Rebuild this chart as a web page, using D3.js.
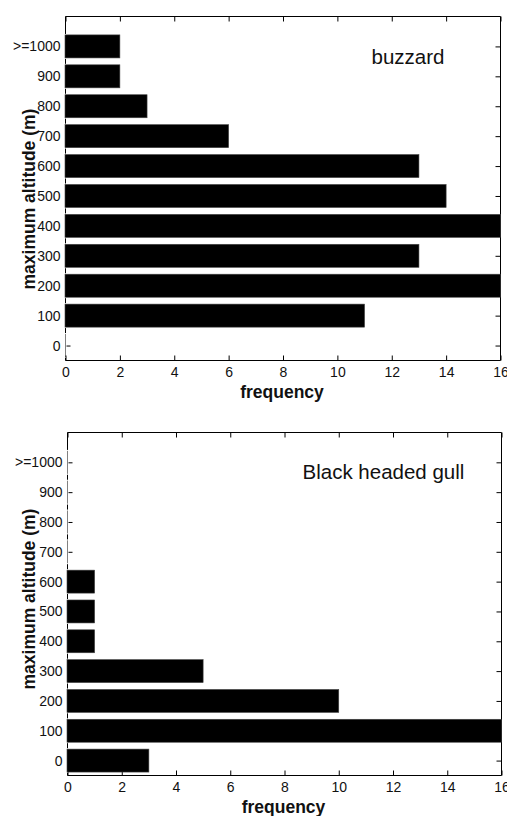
<!DOCTYPE html>
<html>
<head>
<meta charset="utf-8">
<script src="https://cdn.jsdelivr.net/npm/d3@7"></script>
<style>
  html, body { margin: 0; padding: 0; background: #fff; }
  svg { display: block; }
  .tick text { font-family: "Liberation Sans Narrow", "Arial Narrow", Arial, sans-serif; font-size: 14px; fill: #111; }
</style>
</head>
<body>
<div id="chart"></div>
<script>
// ---- data ----
const categories = ["0", "100", "200", "300", "400", "500", "600", "700", "800", "900", ">=1000"];
const buzzardFreq = [0, 11, 16, 13, 16, 14, 13, 6, 3, 2, 2];
const gullFreq = [3, 16, 10, 5, 1, 1, 1, 0, 0, 0, 0];
const freqTicks = [0, 2, 4, 6, 8, 10, 12, 14, 16];
const speciesNames = ["buzzard", "Black headed gull"];
const xLabel = "frequency";
const yLabel = "maximum altitude (m)";

// ---- layout ----
const W = 507, H = 816;
const panels = [
  { values: buzzardFreq, name: speciesNames[0], x0: 65.5, x1: 500.5, y0: 16.5, y1: 360.5,
    nameX: 371.5, nameY: 63.5, yLabelCY: 199 },
  { values: gullFreq, name: speciesNames[1], x0: 67.5, x1: 501.5, y0: 432.5, y1: 775.5,
    nameX: 302.5, nameY: 478.5, yLabelCY: 599 }
];

const svg = d3.select("#chart").append("svg").attr("width", W).attr("height", H);

panels.forEach(p => {
  const g = svg.append("g");
  const x = d3.scaleLinear().domain([0, 16]).range([p.x0, p.x1]);
  const y = d3.scaleLinear().domain([-0.5, 11]).range([p.y1, p.y0]);
  const idx = d3.range(categories.length);
  const barH = Math.abs(y(0) - y(0.77));

  // frame: top, right, bottom lines
  const frame = g.append("g").attr("stroke", "#000").attr("stroke-width", 1).attr("fill", "none");
  frame.append("line").attr("x1", x(0)).attr("x2", x(16)).attr("y1", y(11)).attr("y2", y(11));
  frame.append("line").attr("x1", x(16)).attr("x2", x(16)).attr("y1", y(11)).attr("y2", y(-0.5));
  frame.append("line").attr("x1", x(0)).attr("x2", x(16)).attr("y1", y(-0.5)).attr("y2", y(-0.5));
  // left line: solid top part, then short segments at category boundaries
  frame.append("line").attr("x1", x(0)).attr("x2", x(0)).attr("y1", y(11)).attr("y2", y(10.5) + 2.5);
  d3.range(-0.5, 10, 1).forEach(b => {
    frame.append("line").attr("x1", x(0)).attr("x2", x(0))
      .attr("y1", Math.max(y(b) - 2.5, y(11))).attr("y2", Math.min(y(b) + 2.5, y(-0.5)));
  });

  // bottom axis (ticks inward, labels below)
  const ax = g.append("g").attr("transform", `translate(0,${y(-0.5)})`)
    .call(d3.axisBottom(x).tickValues(freqTicks).tickFormat(d3.format("d"))
      .tickSizeInner(-5).tickSizeOuter(0).tickPadding(7));
  ax.select(".domain").remove();
  ax.selectAll(".tick line").attr("stroke", "#000");

  // top axis ticks
  const at = g.append("g").attr("transform", `translate(0,${y(11)})`)
    .call(d3.axisTop(x).tickValues(freqTicks).tickFormat("").tickSizeInner(-5).tickSizeOuter(0));
  at.select(".domain").remove();
  at.selectAll(".tick line").attr("stroke", "#000");

  // right axis ticks
  const ar = g.append("g").attr("transform", `translate(${x(16)},0)`)
    .call(d3.axisRight(y).tickValues(idx).tickFormat("").tickSizeInner(-5).tickSizeOuter(0));
  ar.select(".domain").remove();
  ar.selectAll(".tick line").attr("stroke", "#000");

  // left axis labels + short inward ticks
  const al = g.append("g").attr("transform", `translate(${x(0)},0)`)
    .call(d3.axisLeft(y).tickValues(idx).tickFormat(i => categories[i])
      .tickSizeInner(0).tickSizeOuter(0).tickPadding(5));
  al.select(".domain").remove();
  al.selectAll(".tick line").attr("x1", 1).attr("x2", 5).attr("stroke", "#000");

  // bars
  g.append("g").selectAll("rect").data(p.values).join("rect")
    .attr("x", x(0) - 0.5)
    .attr("y", (d, i) => y(i) - barH / 2)
    .attr("width", d => Math.max(0, x(d) - x(0) + 0.5))
    .attr("height", barH)
    .attr("fill", "#000")
    .attr("stroke", d => d > 0 ? "#444" : "none")
    .attr("stroke-width", 0.6);

  // species name
  g.append("text").attr("x", p.nameX).attr("y", p.nameY)
    .attr("font-family", "Arial, 'Liberation Sans', sans-serif")
    .attr("font-size", 20.5).attr("fill", "#111").text(p.name);

  // x label
  g.append("text").attr("x", (p.x0 + p.x1) / 2 - 1).attr("y", y(-0.5) + 37)
    .attr("text-anchor", "middle")
    .attr("font-family", "Arial, 'Liberation Sans', sans-serif")
    .attr("font-weight", "bold").attr("font-size", 17.5).attr("fill", "#111").text(xLabel);

  // y label
  g.append("text").attr("transform", `translate(34.5,${p.yLabelCY}) rotate(-90)`)
    .attr("text-anchor", "middle")
    .attr("font-family", "Arial, 'Liberation Sans', sans-serif")
    .attr("font-weight", "bold").attr("font-size", 17.5).attr("fill", "#111").text(yLabel);
});
</script>
</body>
</html>
